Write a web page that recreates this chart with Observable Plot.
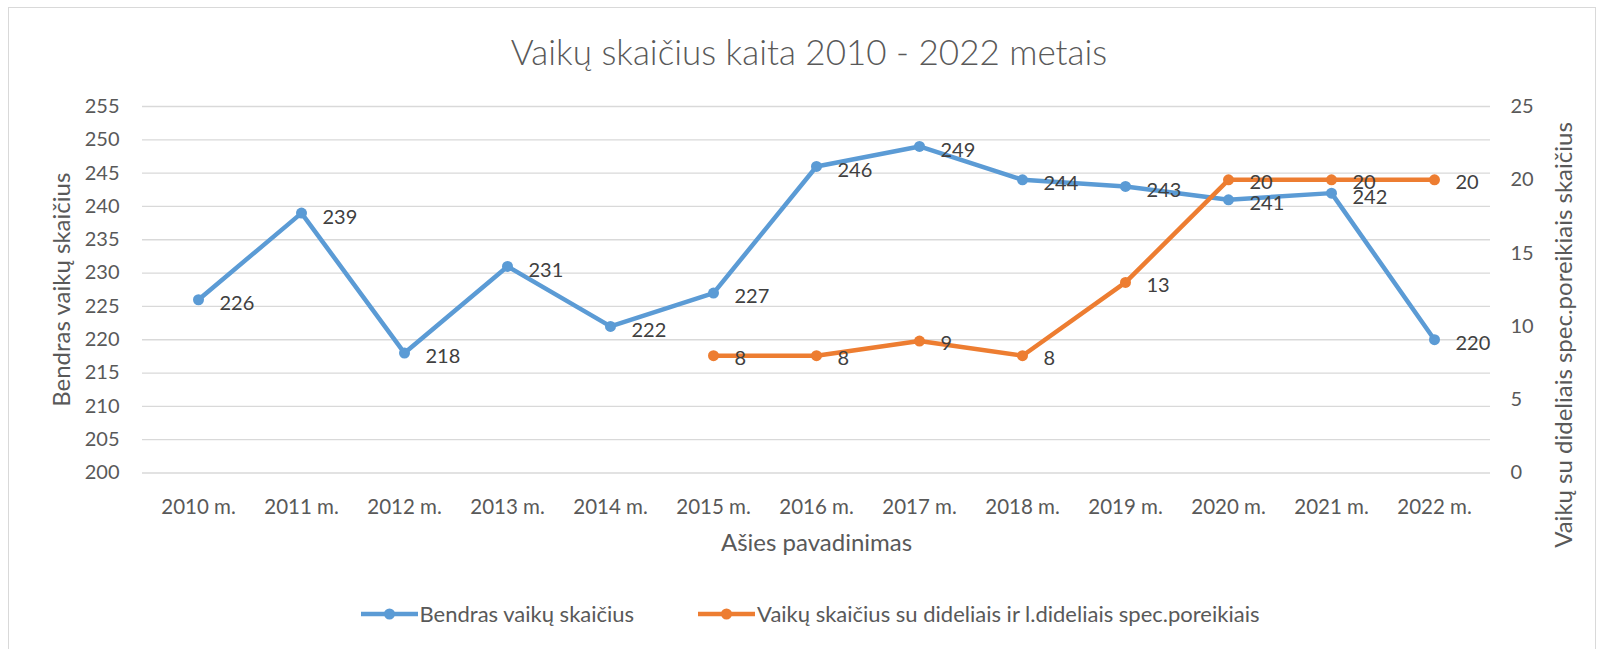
<!DOCTYPE html>
<html>
<head>
<meta charset="utf-8">
<script src="https://cdn.jsdelivr.net/npm/d3@7"></script>
<script src="https://cdn.jsdelivr.net/npm/@observablehq/plot@0.6"></script>
<style>
  html, body { margin: 0; padding: 0; background: #fff; }
  #wrap { position: relative; width: 1605px; height: 649px; overflow: hidden; font-family: Lato, "Noto Sans", sans-serif; }
  #border { position: absolute; left: 8px; top: 7px; width: 1588px; height: 700px; border: 1px solid #d9d9d9; box-sizing: border-box; }
  #title { position: absolute; left: 0; top: 31px; width: 1618px; text-align: center; font-size: 35px; font-weight: 300; color: #595959; line-height: 40px; }
  #chart { position: absolute; left: 0; top: 0; }
  #rtitle { position: absolute; left: 1263px; top: 320px; width: 600px; text-align: center; font-size: 24px; line-height: 30px; color: #595959; transform: rotate(-90deg); transform-origin: 50% 50%; white-space: nowrap; }
  #legend { position: absolute; left: 0; top: 600px; width: 1620px; display: flex; justify-content: center; gap: 64px; font-size: 22px; color: #595959; line-height: 28px; }
  .item { display: flex; align-items: center; gap: 2px; }
</style>
</head>
<body>
<div id="wrap">
  <div id="border"></div>
  <div id="title"></div>
  <div id="chart"></div>
  <div id="rtitle"></div>
  <div id="legend"></div>
</div>
<script>
const chartTitle = "Vaikų skaičius kaita 2010 - 2022 metais";
const years = ["2010 m.", "2011 m.", "2012 m.", "2013 m.", "2014 m.", "2015 m.", "2016 m.", "2017 m.", "2018 m.", "2019 m.", "2020 m.", "2021 m.", "2022 m."];
const totalChildren = [226, 239, 218, 231, 222, 227, 246, 249, 244, 243, 241, 242, 220];
const specialYears = ["2015 m.", "2016 m.", "2017 m.", "2018 m.", "2019 m.", "2020 m.", "2021 m.", "2022 m."];
const specialNeeds = [8, 8, 9, 8, 13, 20, 20, 20];
const leftTicks = [200, 205, 210, 215, 220, 225, 230, 235, 240, 245, 250, 255];
const rightTicks = [0, 5, 10, 15, 20, 25];
const seriesNames = ["Bendras vaikų skaičius", "Vaikų skaičius su dideliais ir l.dideliais spec.poreikiais"];
const leftTitle = "Bendras vaikų skaičius";
const rightTitle = "Vaikų su dideliais spec.poreikiais skaičius";
const xTitle = "Ašies pavadinimas";
const colors = ["#5B9BD5", "#ED7D31"];

document.getElementById("title").textContent = chartTitle;
document.getElementById("rtitle").textContent = rightTitle;

// secondary axis mapped onto the primary domain
const y2 = d3.scaleLinear().domain([rightTicks[0], rightTicks[rightTicks.length - 1]]).range([leftTicks[0], leftTicks[leftTicks.length - 1]]);

const total = years.map((year, i) => ({year, value: totalChildren[i]}));
const special = specialYears.map((year, i) => ({year, value: specialNeeds[i], y: y2(specialNeeds[i])}));

const chart = Plot.plot({
  width: 1605,
  height: 560,
  marginLeft: 142,
  marginRight: 115,
  marginTop: 106,
  marginBottom: 87.5,
  style: {fontFamily: "Lato, 'Noto Sans', sans-serif", fontSize: "20px", color: "#595959", background: "transparent", overflow: "visible"},
  x: {type: "point", domain: years, padding: 0.5},
  y: {domain: [leftTicks[0], leftTicks[leftTicks.length - 1]]},
  marks: [
    Plot.gridY(leftTicks, {stroke: "#d9d9d9", strokeOpacity: 1, strokeWidth: 1.3}),
    Plot.axisY(leftTicks, {anchor: "left", tickSize: 0, tickPadding: 23, label: leftTitle, labelAnchor: "center", labelArrow: "none", labelOffset: 90, fontSize: 20}),
    Plot.axisY(rightTicks.map(v => y2(v)), {anchor: "right", tickSize: 0, tickPadding: 20, tickFormat: d => String(Math.round(y2.invert(d))), label: null, fontSize: 20}),
    Plot.axisX({tickSize: 0, tickPadding: 26, label: xTitle, labelAnchor: "center", labelArrow: "none", labelOffset: 78, fontSize: 20.5}),
    Plot.line(total, {x: "year", y: "value", stroke: colors[0], strokeWidth: 4.5}),
    Plot.dot(total, {x: "year", y: "value", r: 5.5, fill: colors[0], stroke: "none"}),
    Plot.line(special, {x: "year", y: "y", stroke: colors[1], strokeWidth: 4.5}),
    Plot.dot(special, {x: "year", y: "y", r: 5.5, fill: colors[1], stroke: "none"}),
    Plot.text(total, {x: "year", y: "value", text: d => String(d.value), dx: 21, dy: 4, textAnchor: "start", fill: "#404040", fontSize: 20}),
    Plot.text(special, {x: "year", y: "y", text: d => String(d.value), dx: 21, dy: 3, textAnchor: "start", fill: "#404040", fontSize: 20})
  ]
});
// enlarge axis titles (left and bottom) to match the reference
chart.querySelectorAll("g[aria-label='y-axis label'] text, g[aria-label='x-axis label'] text").forEach(t => {
  t.setAttribute("font-size", "24");
  t.style.fontSize = "24px";
});
document.getElementById("chart").appendChild(chart);

const legend = document.getElementById("legend");
seriesNames.forEach((name, i) => {
  const item = document.createElement("div");
  item.className = "item";
  item.innerHTML = `<svg width="57" height="14"><line x1="0" y1="7" x2="57" y2="7" stroke="${colors[i]}" stroke-width="4.5"/><circle cx="28.5" cy="7" r="5.5" fill="${colors[i]}"/></svg><span>${name}</span>`;
  legend.appendChild(item);
});
</script>
</body>
</html>
